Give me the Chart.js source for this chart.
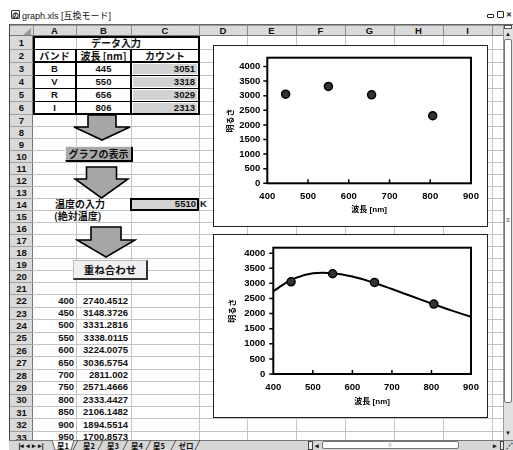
<!DOCTYPE html>
<html lang="ja">
<head>
<meta charset="utf-8">
<title>graph.xls</title>
<script src="https://cdn.jsdelivr.net/npm/chart.js@4.4.1/dist/chart.umd.min.js"></script>
<style>
  html, body { margin: 0; padding: 0; background: #fff; }
  #sheet { position: relative; width: 513px; height: 450px; overflow: hidden; background: #fff;
           font: bold 9.5px "Liberation Sans", "Noto Sans CJK JP", sans-serif; color: #111; }
  #sheet > * { position: absolute; box-sizing: border-box; }
  .jp { font-family: "Noto Sans CJK JP", sans-serif; font-size: 10px; }
</style>
</head>
<body>
<div id="sheet"></div>
<script>
// ---- workbook contents ----
const tableTitle = 'データ入力';
const tableHeaders = ['バンド', '波長 [nm]', 'カウント'];
const bands = ['B', 'V', 'R', 'I'];
const wavelengths = [445, 550, 656, 806];
const counts = [3051, 3318, 3029, 2313];
const temperatureK = 5510;
const curveWavelengths = [400, 450, 500, 550, 600, 650, 700, 750, 800, 850, 900, 950];
const curveValues = [2740.4512, 3148.3726, 3331.2816, 3338.0115, 3224.0075, 3036.5754,
                     2811.002, 2571.4666, 2333.4427, 2106.1482, 1894.5514, 1700.8573];
const columnLetters = ['A', 'B', 'C', 'D', 'E', 'F', 'G', 'H', 'I'];
const sheetTabs = ['星1', '星2', '星3', '星4', '星5', 'ゼロ'];
const xTicks = [400, 500, 600, 700, 800, 900];
const yTicks = [0, 500, 1000, 1500, 2000, 2500, 3000, 3500, 4000];

// ---- sheet geometry ----
const S = document.getElementById('sheet');
const colX = [10, 33, 76, 131, 199, 247, 296, 345, 394, 443, 492, 503];
const rowTop = [];
let yy = 36;
for (let r = 1; r <= 34; r++) { rowTop[r] = yy; yy += r <= 6 ? 13 : (r <= 21 ? 12.03 : 12.4); }
const rowMid = r => (rowTop[r] + rowTop[r + 1]) / 2;

function el(tag, css, text) {
  const d = document.createElement(tag);
  d.style.cssText = css;
  if (text != null) d.textContent = text;
  S.appendChild(d);
  return d;
}
function box(x, y, w, h, css = '') {
  return el('div', `left:${x}px;top:${y}px;width:${w}px;height:${h}px;` + css);
}
function txt(s, x0, x1, yc, align, cls = '', css = '') {
  const d = el('div', `left:${x0}px;width:${x1 - x0}px;top:${yc - 7}px;height:14px;line-height:14px;` +
    `text-align:${align};white-space:nowrap;` + css, s);
  if (cls) d.className = cls;
  return d;
}
function svg(x, y, w, h, inner) {
  const d = el('div', `left:${x}px;top:${y}px;width:${w}px;height:${h}px;`);
  d.innerHTML = `<svg width="${w}" height="${h}" viewBox="0 0 ${w} ${h}" xmlns="http://www.w3.org/2000/svg">${inner}</svg>`;
  return d;
}

// title bar
box(11, 10, 9, 9, 'border:1px solid #333;border-radius:1px;background:#fff');
txt('の', 11, 20, 14.5, 'center', '', 'font-size:7px;font-weight:bold;font-family:"Noto Sans CJK JP"');
txt('graph.xls [互換モード]', 22, 140, 15.5, 'left', '', 'font-weight:normal;font-size:9px');
box(487, 14, 7, 4, 'border:1px solid #222;border-radius:1px');
box(497, 11, 7, 7, 'border:1px solid #222;border-radius:1px');
txt('✕', 505, 513, 15, 'center', '', 'font-size:7px');

// window frame
box(9, 24, 504, 426, 'border-left:1px solid #444;border-top:1px solid #666');

// cell gridlines
for (let r = 1; r <= 33; r++) box(33, rowTop[r + 1], 470, 1, 'background:#c4c4c4');
for (let c = 2; c < colX.length; c++) box(colX[c], 36, 1, 404, 'background:#c4c4c4');

// column header
box(10, 25, 493, 11, 'background:#dadada;border-top:1px solid #999;border-bottom:1px solid #777');
for (let c = 1; c < colX.length; c++) box(colX[c], 25, 1, 11, 'background:#8a8a8a');
columnLetters.forEach((L, i) => txt(L, colX[i + 1], colX[i + 2], 30.5, 'center'));
svg(23, 27, 9, 8, '<polygon points="8,0 8,7 0,7" fill="#9a9a9a"/>');

// row header
box(10, 36, 23, 404, 'background:#dadada;border-right:1px solid #777');
for (let r = 1; r <= 33; r++) {
  box(10, rowTop[r + 1], 23, 1, 'background:#a0a0a0');
  txt(String(r), 10, 33, rowMid(r) + 0.5, 'center');
}

// ---- input table A1:C6 ----
for (let i = 0; i < 4; i++) box(133, rowTop[3 + i] + 1.5, 64, rowTop[4 + i] - rowTop[3 + i] - 2.5, 'background:#d2d2d2');
box(33, rowTop[2], 166, 1, 'background:#000');
box(33, rowTop[3] - 1, 166, 2, 'background:#000');
for (let r = 4; r <= 6; r++) box(33, rowTop[r], 166, 1, 'background:#000');
box(75, rowTop[2], 2, rowTop[7] - rowTop[2], 'background:#000');
box(130, rowTop[2], 2, rowTop[7] - rowTop[2], 'background:#000');
box(33, 36, 167, rowTop[7] - 36 + 1, 'border:2px solid #000');

txt(tableTitle, 33, 199, rowMid(1), 'center', 'jp');
txt(tableHeaders[0], 33, 76, rowMid(2), 'center', 'jp');
txt(tableHeaders[1], 76, 131, rowMid(2), 'center', 'jp');
txt(tableHeaders[2], 131, 199, rowMid(2), 'center', 'jp');
bands.forEach((b, i) => {
  txt(b, 33, 76, rowMid(3 + i), 'center');
  txt(String(wavelengths[i]), 76, 131, rowMid(3 + i), 'center');
  txt(String(counts[i]), 131, 195, rowMid(3 + i), 'right');
});

// ---- arrows and buttons ----
function downArrow(cx, top, neck, tip, shaftW, headW) {
  const x0 = cx - headW / 2 - 2, y0 = top - 2, w = headW + 4, h = tip - top + 4;
  const p = (x, y) => `${(x - x0).toFixed(1)},${(y - y0).toFixed(1)}`;
  const pts = [p(cx - shaftW / 2, top), p(cx + shaftW / 2, top), p(cx + shaftW / 2, neck), p(cx + headW / 2, neck),
               p(cx, tip), p(cx - headW / 2, neck), p(cx - shaftW / 2, neck)].join(' ');
  svg(x0, y0, w, h, `<polygon points="${pts}" fill="#a6a6a6" stroke="#000" stroke-width="1.6" stroke-linejoin="miter"/>`);
}
downArrow(102, 115, 127, 140, 28, 56);
downArrow(101, 167, 179, 198, 30, 53);
downArrow(106, 227, 240, 257, 30, 58);

box(65, 146, 67, 15, 'background:#a9a9a9;border:1px solid #000;border-top-color:#eee;border-left-color:#eee;box-shadow:1px 1px 0 #000');
txt('グラフの表示', 65, 132, 153.5, 'center', 'jp', 'font-weight:bold');
box(73, 260, 75, 20, 'background:#f0f0f0;border:1px solid #bbb;border-right:2px solid #333;border-bottom:2px solid #333');
txt('重ね合わせ', 73, 147, 269.5, 'center', 'jp', 'font-size:10.5px;font-weight:bold');

// ---- temperature input ----
txt('温度の入力', 55, 130, rowMid(14), 'left', 'jp');
txt('(絶対温度)', 54, 130, rowMid(15), 'left', 'jp');
box(130, rowTop[14] - 0.5, 69, rowTop[15] - rowTop[14] + 1, 'background:#d2d2d2;border:2px solid #000');
txt(String(temperatureK), 131, 196, rowMid(14), 'right');
txt('K', 200, 215, rowMid(14), 'left');

// ---- computed curve table (rows 22-) ----
curveWavelengths.forEach((w, i) => {
  const r = 22 + i;
  if (r > 33) return;
  txt(String(w), 33, 74, rowMid(r), 'right');
  txt(String(curveValues[i]), 76, 128, rowMid(r), 'right');
});

// ---- charts ----
const FONT = '"Liberation Sans", "Noto Sans CJK JP", sans-serif';

const plotFrame = {
  id: 'plotFrame',
  afterDatasetsDraw(chart) {
    const { ctx, chartArea: a, scales: { x, y } } = chart;
    ctx.save();
    ctx.strokeStyle = '#000';
    ctx.lineWidth = 1.5;
    ctx.beginPath();
    y.ticks.forEach(t => {
      const p = y.getPixelForValue(t.value);
      ctx.moveTo(a.left - 4, p); ctx.lineTo(a.left, p);
    });
    x.ticks.forEach(t => {
      if (t.value > x.min && t.value < x.max) {
        const p = x.getPixelForValue(t.value);
        ctx.moveTo(p, a.bottom); ctx.lineTo(p, a.bottom - 4);
      }
    });
    ctx.stroke();
    ctx.lineWidth = 2;
    ctx.strokeRect(a.left, a.top, a.right - a.left, a.bottom - a.top);
    ctx.restore();
  }
};

function makeChart(x, y, w, h, datasets, g) {
  const wrap = box(x, y, w, h, 'background:#fff');
  const cv = document.createElement('canvas');
  cv.width = w; cv.height = h;
  cv.style.cssText = `display:block;width:${w}px;height:${h}px`;
  wrap.appendChild(cv);
  box(x, y, w, h, 'border:1.5px solid #222');
  const tickFont = { family: FONT, size: 9.5, weight: 'bold' };
  const titleFont = { family: FONT, size: 8, weight: 'bold' };
  return new Chart(cv, {
    type: 'scatter',
    data: { datasets },
    plugins: [plotFrame],
    options: {
      responsive: false, animation: false, events: [],
      layout: { padding: { top: g.padTop, right: g.padRight, left: 0, bottom: 0 } },
      plugins: { legend: { display: false }, tooltip: { enabled: false } },
      scales: {
        x: {
          type: 'linear', position: 'bottom', min: xTicks[0], max: xTicks[xTicks.length - 1],
          grid: { display: false, drawTicks: false }, border: { display: false },
          ticks: { padding: g.xTickPad, maxRotation: 0, color: '#000', font: tickFont,
                   callback: v => String(v) },
          afterBuildTicks(s) { s.ticks = xTicks.map(v => ({ value: v })); },
          title: { display: true, text: '波長 [nm]', color: '#000', font: titleFont,
                   padding: { top: 0, bottom: g.xTitlePad } },
          afterFit(s) { s.height = g.xAxisH; }
        },
        y: {
          type: 'linear', position: 'left', min: 0, max: g.yMax,
          grid: { display: false, drawTicks: false }, border: { display: false },
          ticks: { padding: g.yTickPad, color: '#000', font: tickFont,
                   callback: v => String(v) },
          afterBuildTicks(s) { s.ticks = yTicks.map(v => ({ value: v })); },
          title: { display: true, text: '明るさ', color: '#000', font: titleFont,
                   padding: { top: g.yTitlePad, bottom: 0 } },
          afterFit(s) { s.width = g.yAxisW; }
        }
      }
    }
  });
}

const observed = () => ({
  data: wavelengths.map((w, i) => ({ x: w, y: counts[i] })),
  pointRadius: 4, pointBackgroundColor: '#333', pointBorderColor: '#000', pointBorderWidth: 1.5,
  showLine: false, order: 0
});

// measured brightness only
makeChart(213, 45, 275, 182, [observed()], {
  padTop: 9.3, padRight: 17, yAxisW: 54.3, xAxisH: 43.7, yMax: 4300,
  yTickPad: 7, xTickPad: 7.5, yTitlePad: 13, xTitlePad: 12
});

// measured brightness with the blackbody curve
makeChart(213, 234, 275, 184, [
  observed(),
  {
    type: 'line',
    data: curveWavelengths.map((w, i) => ({ x: w, y: curveValues[i] })),
    borderColor: '#000', borderWidth: 2, pointRadius: 0, tension: 0.4, fill: false, order: 1
  }
], {
  padTop: 11, padRight: 17, yAxisW: 60.3, xAxisH: 44, yMax: 4180,
  yTickPad: 8, xTickPad: 7.3, yTitlePad: 15, xTitlePad: 11.5
});

// ---- scrollbars ----
box(503, 25, 10, 415, 'background:#e0e0e0;border-left:1px solid #999');
box(504, 25, 8, 4, 'border:1px solid #555;background:#fff');
txt('▲', 503, 513, 34, 'center', '', 'font-size:6px');
box(504, 39, 8, 364, 'background:#fff;border:1px solid #777;border-radius:2px');
txt('≡', 503, 513, 220, 'center', '', 'font-size:6px;font-weight:normal');
txt('▼', 503, 513, 433, 'center', '', 'font-size:6px');

// ---- sheet tabs and horizontal scrollbar ----
box(9, 440, 504, 10, 'background:#d6d6d6;border-top:1px solid #777');
txt('|◂ ◂ ▸ ▸|', 10, 52, 445.5, 'center', '', 'font-size:6.5px');
let tabSvg = '<polygon points="0,0 22,0 19,10 3,10" fill="#fff" stroke="#444" stroke-width="0.8"/>';
const tabCenters = [63, 89, 113, 137, 159, 186];
const tabSlashes = [75, 100, 125, 148, 173, 197];
tabSlashes.forEach(sx => { tabSvg += `<line x1="${sx - 52 - 2}" y1="10" x2="${sx - 52 + 3}" y2="0" stroke="#444" stroke-width="0.9"/>`; });
svg(52, 440, 160, 10, tabSvg);
sheetTabs.forEach((t, i) => txt(t, tabCenters[i] - 12, tabCenters[i] + 12, 445.5, 'center', '', 'font-size:7.5px;font-family:"Noto Sans CJK JP"'));
box(308, 441, 5, 9, 'border:1px solid #444;background:#eee');
txt('◂', 313, 321, 445.5, 'center', '', 'font-size:7px');
box(322, 441, 137, 8, 'background:#fff;border:1px solid #777;border-radius:2px');
txt('⁞⁞', 380, 400, 445, 'center', '', 'font-size:6px;font-weight:normal');
txt('▸', 491, 499, 445.5, 'center', '', 'font-size:7px');
box(500, 441, 4, 9, 'border:1px solid #444;background:#eee');
txt('⋰', 505, 513, 445.5, 'center', '', 'font-size:7px');
</script>
</body>
</html>
